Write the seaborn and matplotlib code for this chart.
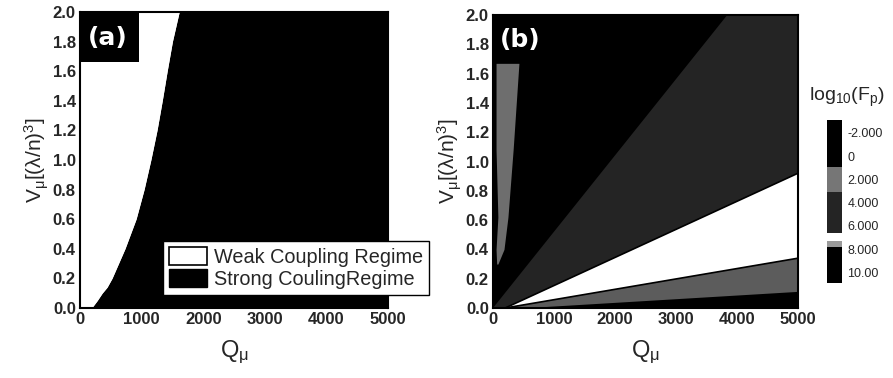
import numpy as np
import matplotlib
matplotlib.use("Agg")
import matplotlib.pyplot as plt
import seaborn as sns
from matplotlib.patches import Patch, Rectangle
from matplotlib.colors import ListedColormap, BoundaryNorm
from matplotlib.cm import ScalarMappable

# ---------------- data ----------------
# Panel (a): boundary between weak and strong coupling (Q at given V)
boundary_V = [0.0, 0.05, 0.10, 0.14, 0.20, 0.40, 0.60, 0.80, 1.00, 1.20, 1.40, 1.60, 1.80, 2.00]
boundary_Q = [190, 280, 360, 440, 520, 730, 910, 1040, 1150, 1250, 1335, 1415, 1500, 1610]

# Panel (b): contour-region boundaries (straight edges), (Q, V) endpoints
diag_Q, diag_V = [0, 3840], [0.0, 2.0]              # black / dark region
white_up_Q, white_up_V = [200, 5000], [0.0, 0.92]    # dark / white
white_lo_Q, white_lo_V = [200, 5000], [0.0, 0.34]    # white / grey
grey_lo_Q, grey_lo_V = [600, 5000], [0.0, 0.11]      # grey / black
# grey vertical strip near Q ~ 0-400
strip_V = [1.67, 1.08, 0.62, 0.40, 0.30]
strip_left = [50, 50, 80, 50, 60]
strip_right = [425, 330, 245, 180, 80]

Q_max, V_max = 5000, 2.0

# colour scale for log10(Fp)
cb_bounds = [-3.1, 0.9, 3.1, 6.6, 7.3, 7.8, 10.9]
cb_colors = ["#000000", "#767676", "#242424", "#ffffff", "#9a9a9a", "#000000"]
cb_ticks = [-2, 0, 2, 4, 6, 8, 10]
cb_ticklabels = ["-2.000", "0", "2.000", "4.000", "6.000", "8.000", "10.00"]

x_ticks = [0, 1000, 2000, 3000, 4000, 5000]
y_ticks = [0.0, 0.2, 0.4, 0.6, 0.8, 1.0, 1.2, 1.4, 1.6, 1.8, 2.0]

legend_labels = ["Weak Coupling Regime", "Strong CoulingRegime"]

# ---------------- style ----------------
sns.set_theme(style="ticks")
plt.rcParams["font.family"] = ["Liberation Sans", "DejaVu Sans"]
plt.rcParams["mathtext.fontset"] = "custom"
plt.rcParams["mathtext.rm"] = "Liberation Sans"
plt.rcParams["mathtext.it"] = "Liberation Sans:italic"

fig = plt.figure(figsize=(8.93, 3.78), dpi=100)
axA = fig.add_axes([80 / 893, 70 / 378, 308 / 893, 296 / 378])
axB = fig.add_axes([493 / 893, 70 / 378, 305 / 893, 293 / 378])
cax = fig.add_axes([827 / 893, 95 / 378, 15 / 893, 163 / 378])

ylab = r"$\mathregular{V_{\mu}[(\lambda/n)^3]}$"
xlab = r"$\mathregular{Q_{\mu}}$"


def style_axis(ax):
    ax.set_xlim(0, Q_max)
    ax.set_ylim(0, V_max)
    ax.set_xticks(x_ticks)
    ax.set_yticks(y_ticks)
    ax.set_yticklabels([f"{v:.1f}" for v in y_ticks])
    ax.tick_params(direction="in", length=4, width=1.2, labelsize=12, pad=3,
                   color="black", right=True)
    for lab in ax.get_xticklabels() + ax.get_yticklabels():
        lab.set_fontweight("bold")
    for s in ax.spines.values():
        s.set_linewidth(1.5)
        s.set_color("black")
    ax.set_xlabel(xlab, fontsize=17, labelpad=8)
    ax.set_ylabel(ylab, fontsize=15, labelpad=1)


# ---------------- panel (a) ----------------
axA.set_facecolor("black")
axA.fill_betweenx(boundary_V, 0, boundary_Q, color="white", lw=0, zorder=1)
sns.lineplot(x=boundary_Q, y=boundary_V, sort=False, orient="y", color="white",
             lw=0.8, ax=axA, zorder=2)
style_axis(axA)
axA.add_patch(Rectangle((0, 0.83), 0.19, 0.17, transform=axA.transAxes,
                        facecolor="black", edgecolor="none", zorder=4))
axA.text(0.026, 0.912, "(a)", transform=axA.transAxes, color="white",
         fontsize=18, fontweight="bold", family="DejaVu Sans", ha="left", va="center",
         zorder=5)
handles = [Patch(facecolor="white", edgecolor="black", lw=1.2),
           Patch(facecolor="black", edgecolor="black")]
leg = axA.legend(handles, legend_labels, loc="lower left",
                 bbox_to_anchor=(163 / 893, 83 / 378), bbox_transform=fig.transFigure,
                 borderaxespad=0, fontsize=14.3, frameon=True, fancybox=False,
                 framealpha=1, edgecolor="black", handlelength=1.9, handleheight=1.0,
                 handletextpad=0.35, labelspacing=0.12, borderpad=0.3)
leg.get_frame().set_linewidth(1.0)
leg.set_zorder(6)

# ---------------- panel (b) ----------------
axB.set_facecolor("black")
dark_Q = diag_Q + [Q_max] + white_up_Q[::-1]
dark_V = diag_V + [V_max] + white_up_V[::-1]
axB.fill(dark_Q, dark_V, color=cb_colors[2], lw=0, zorder=1)
wh_Q = white_up_Q + white_lo_Q[::-1]
wh_V = white_up_V + white_lo_V[::-1]
axB.fill(wh_Q, wh_V, color=cb_colors[3], lw=0, zorder=1)
gr_Q = white_lo_Q + grey_lo_Q[::-1]
gr_V = white_lo_V + grey_lo_V[::-1]
axB.fill(gr_Q, gr_V, color="#5c5c5c", lw=0, zorder=1)
axB.fill_betweenx(strip_V, strip_left, strip_right, color="#6e6e6e", lw=0, zorder=1)
for bq, bv in [(white_up_Q, white_up_V), (white_lo_Q, white_lo_V)]:
    sns.lineplot(x=bq, y=bv, sort=False, color="black", lw=1.2, ax=axB, zorder=3)
style_axis(axB)
axB.text(0.023, 0.915, "(b)", transform=axB.transAxes, color="white",
         fontsize=18, fontweight="bold", family="DejaVu Sans", ha="left", va="center",
         zorder=5)

# ---------------- colour bar ----------------
cmap = ListedColormap(cb_colors)
norm = BoundaryNorm(cb_bounds, cmap.N)
cb = fig.colorbar(ScalarMappable(norm=norm, cmap=cmap), cax=cax,
                  spacing="proportional", ticks=cb_ticks)
cb.ax.invert_yaxis()
cb.outline.set_visible(False)
cb.ax.minorticks_off()
cb.ax.set_yticks(cb_ticks)
cb.ax.set_yticklabels(cb_ticklabels)
cb.ax.tick_params(which="both", length=0, labelsize=9, pad=4)
fig.text(847 / 893, 1 - 97 / 378, r"$\mathregular{log_{10}(F_p)}$", fontsize=14,
         ha="center", va="center")

fig.savefig("out.png", dpi=100)
